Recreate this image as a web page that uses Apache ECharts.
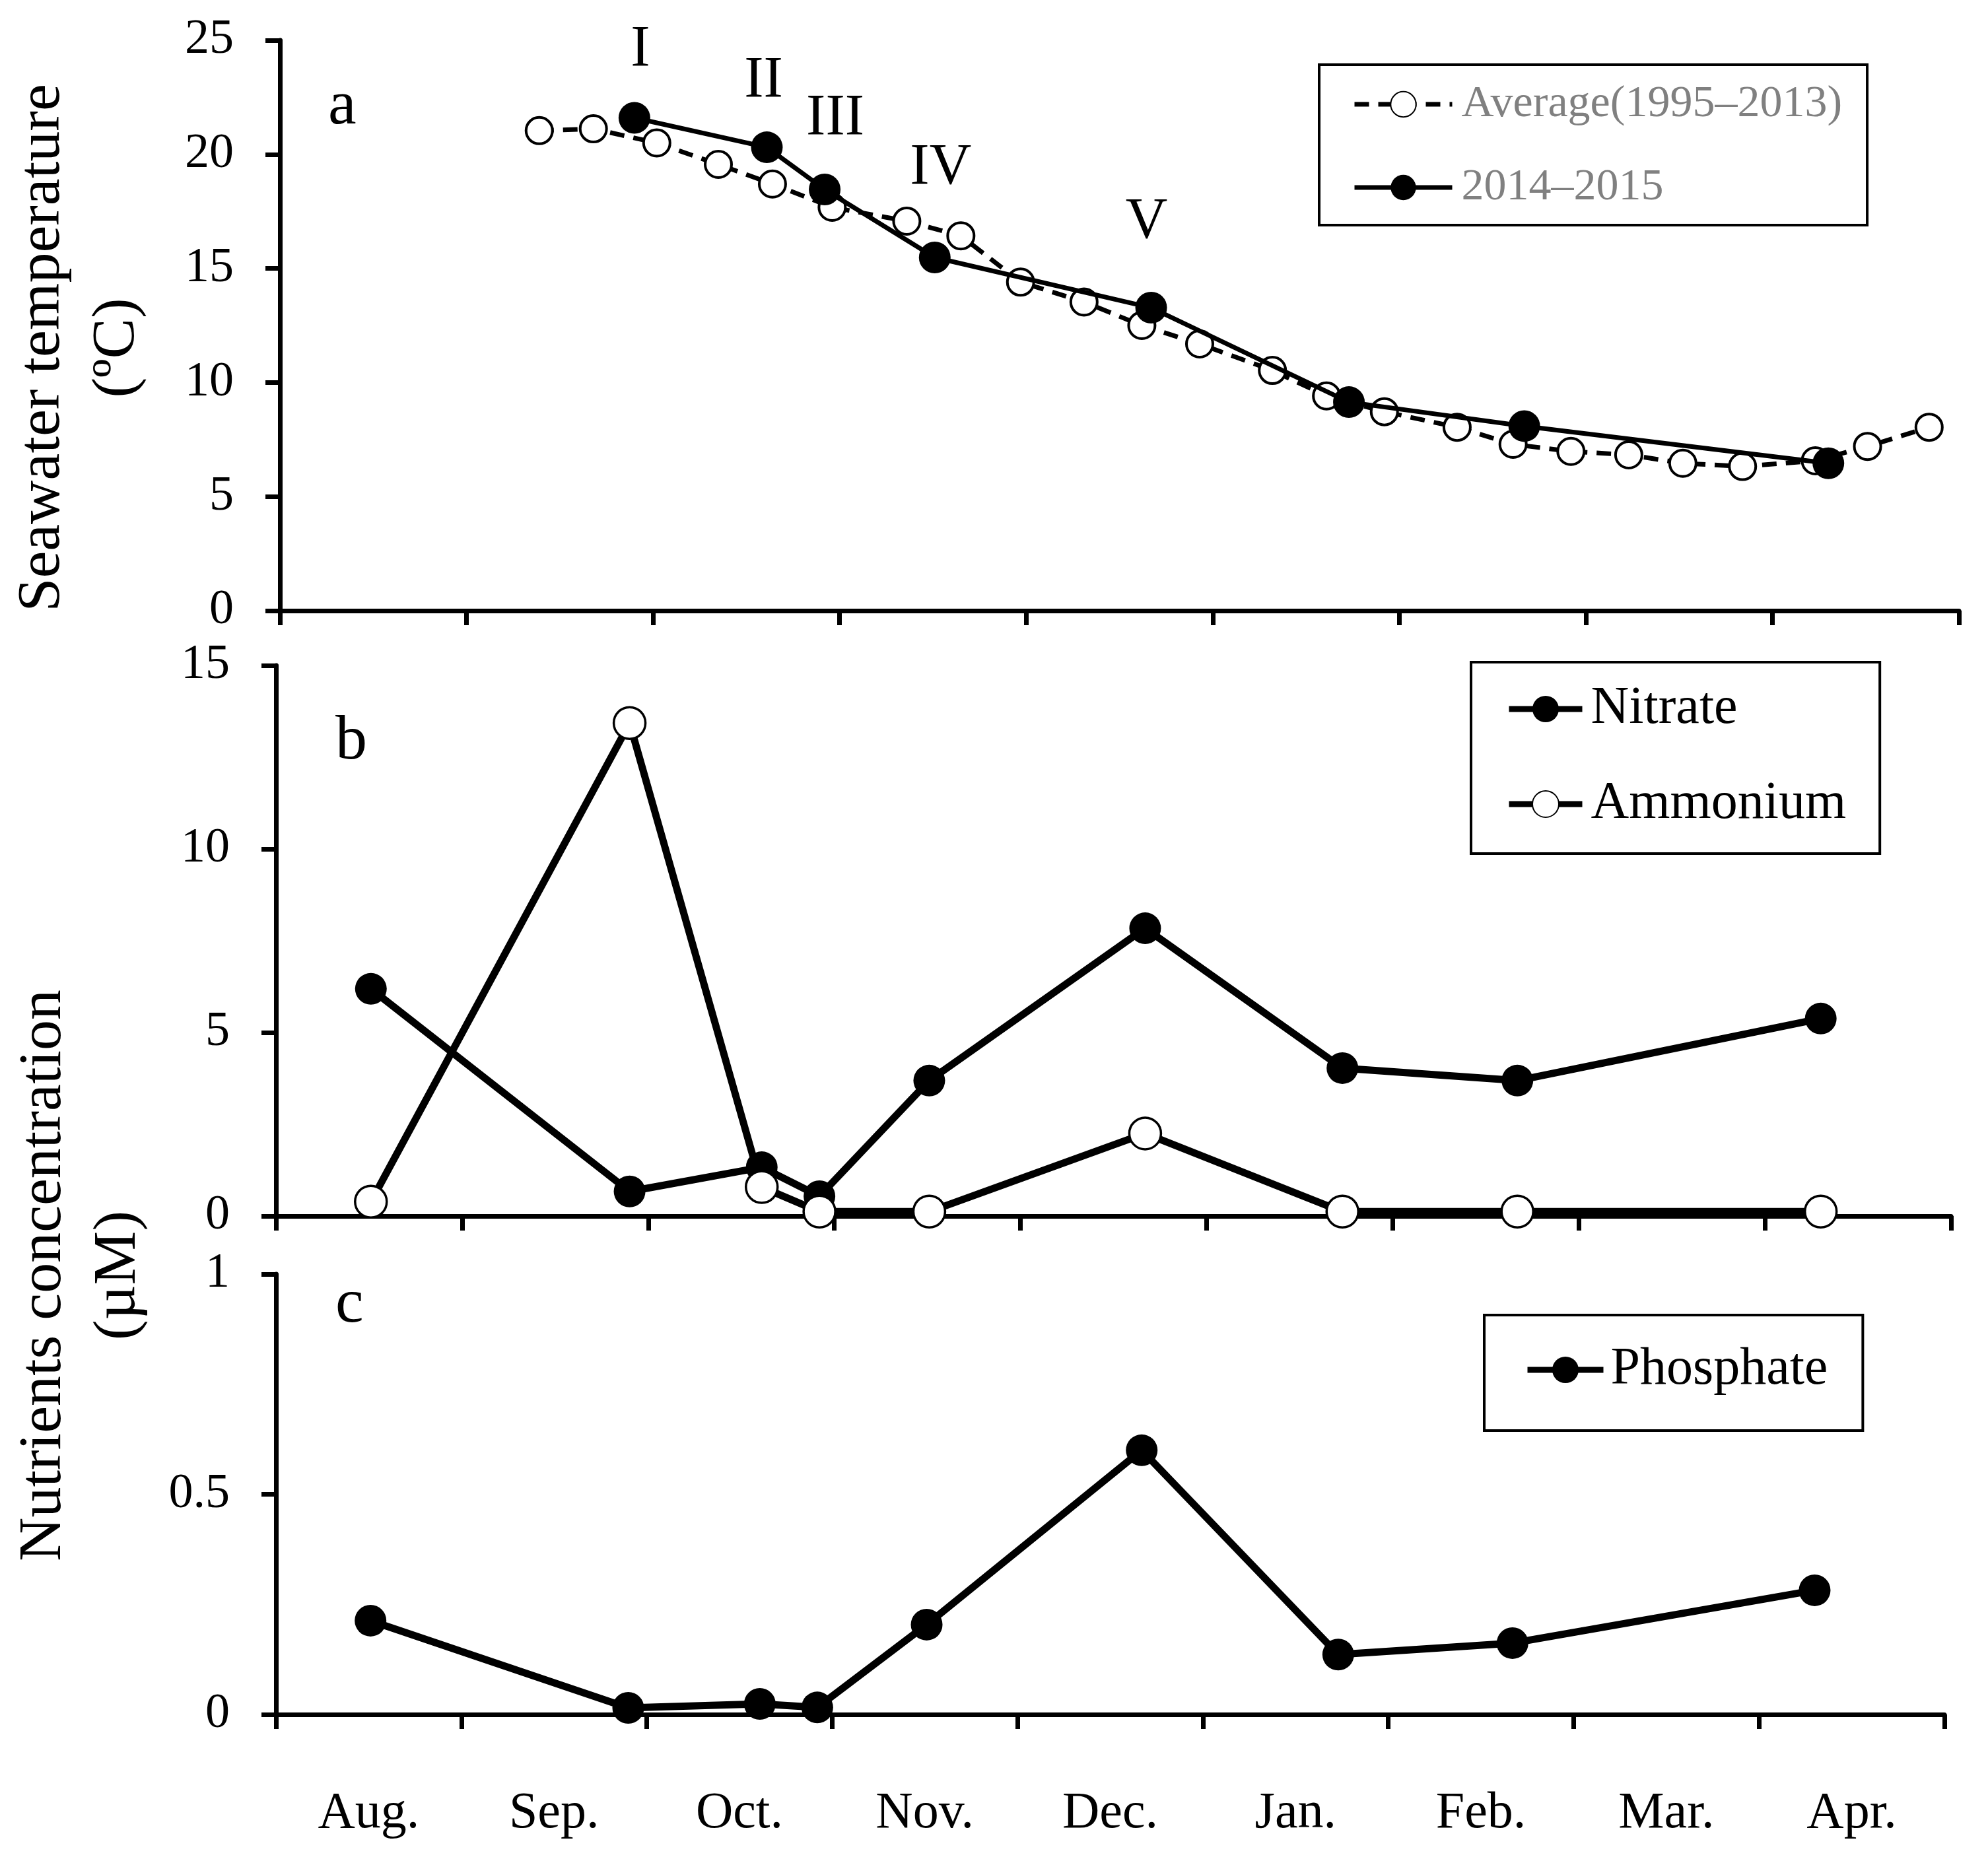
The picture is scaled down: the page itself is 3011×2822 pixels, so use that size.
<!DOCTYPE html>
<html><head><meta charset="utf-8">
<script src="https://cdn.jsdelivr.net/npm/echarts@6/dist/echarts.min.js"></script>
<style>html,body{margin:0;padding:0;background:#fff}#c{width:3011px;height:2822px}</style>
</head><body><div id="c"></div>
<script>
// x positions are in month units: 0 = start of Aug., 9 = end of Apr.
const months = ['Aug.','Sep.','Oct.','Nov.','Dec.','Jan.','Feb.','Mar.','Apr.'];
const avgX = [1.39, 1.68, 2.02, 2.35, 2.64, 2.96, 3.36, 3.65, 3.97, 4.31, 4.62, 4.93, 5.32, 5.61, 5.92, 6.31, 6.61, 6.92, 7.23, 7.52, 7.84, 8.23, 8.51, 8.84];
const avgTemp = [21.04, 21.12, 20.5, 19.56, 18.7, 17.68, 17.07, 16.43, 14.4, 13.53, 12.5, 11.69, 10.53, 9.41, 8.72, 8.04, 7.29, 6.98, 6.83, 6.46, 6.32, 6.57, 7.2, 8.04];
const tempX = [1.90, 2.61, 2.92, 3.51, 4.67, 5.73, 6.67, 8.30];
const temp2014 = [21.6, 20.31, 18.46, 15.48, 13.28, 9.14, 8.09, 6.46];
const cruiseLabels = ['I', 'II', 'III', 'IV', 'V'];
const sampleX = [0.51, 1.90, 2.61, 2.92, 3.51, 4.67, 5.73, 6.67, 8.30];
const nitrate = [6.19, 0.67, 1.33, 0.54, 3.69, 7.84, 4.03, 3.69, 5.38];
const ammonium = [0.39, 13.43, 0.79, 0.12, 0.12, 2.25, 0.12, 0.12, 0.12];
const phosphate = [0.213, 0.015, 0.024, 0.016, 0.204, 0.60, 0.136, 0.162, 0.282];

// label nudges for the cruise numerals (style only)
const cruiseLabelOffsets = [[9, -35], [-5, -32], [16, -39], [9, -67], [-7, -61]];

const FONT = "'Liberation Serif', 'Times New Roman', serif";
const zip = (xs, ys) => xs.map((x, i) => [x, ys[i]]);

const chart = echarts.init(document.getElementById('c'), null, {renderer: 'canvas'});

function xVal(gi) {
  return {
    type: 'value', gridIndex: gi, min: 0, max: 9, interval: 1,
    axisLine: {show: true, onZero: false, lineStyle: {color: '#000', width: 7}},
    axisTick: {show: true, inside: false, length: 22, lineStyle: {color: '#000', width: 7}},
    axisLabel: {show: false}, splitLine: {show: false}
  };
}
function yVal(gi, max, interval) {
  return {
    type: 'value', gridIndex: gi, min: 0, max: max, interval: interval,
    axisLine: {show: true, onZero: false, lineStyle: {color: '#000', width: 7}},
    axisTick: {show: true, inside: false, length: 22, lineStyle: {color: '#000', width: 7}},
    axisLabel: {show: true, fontSize: 74, fontFamily: FONT, color: '#000', margin: 70},
    splitLine: {show: false}
  };
}

const tempData = zip(tempX, temp2014).map((p, i) => {
  if (i < cruiseLabels.length) {
    return {value: p, label: {show: true, formatter: cruiseLabels[i], offset: cruiseLabelOffsets[i]}};
  }
  return {value: p};
});

const legendBase = {
  orient: 'vertical', selectedMode: false, borderColor: '#000', borderWidth: 4,
  backgroundColor: '#fff'
};

const option = {
  animation: false,
  backgroundColor: '#fff',
  textStyle: {fontFamily: FONT},
  grid: [
    {left: 424, top: 61, width: 2543, height: 864},
    {left: 418, top: 1008, width: 2537, height: 834},
    {left: 418, top: 1930, width: 2527, height: 667}
  ],
  xAxis: [
    xVal(0), xVal(1), xVal(2),
    {
      type: 'category', gridIndex: 2, data: months, boundaryGap: true, position: 'bottom',
      axisLine: {show: false}, axisTick: {show: false}, splitLine: {show: false},
      axisLabel: {show: true, interval: 0, fontSize: 78, fontFamily: FONT, color: '#000', margin: 112}
    }
  ],
  yAxis: [yVal(0, 25, 5), yVal(1, 15, 5), yVal(2, 1, 0.5)],
  legend: [
    Object.assign({}, legendBase, {
      data: ['Average(1995–2013)', '2014–2015'],
      left: 1998, top: 98, padding: [26, 38, 23, 50],
      itemWidth: 148, itemHeight: 48, itemGap: 58,
      lineStyle: {width: 7},
      textStyle: {fontSize: 68, lineHeight: 68, fontFamily: FONT, color: '#808080', padding: [0, 0, 0, 9]}
    }),
    Object.assign({}, legendBase, {
      data: ['Nitrate', 'Ammonium'],
      left: 2228, top: 1003, padding: [31, 51, 35, 53],
      itemWidth: 111, itemHeight: 50, itemGap: 64,
      lineStyle: {width: 9},
      textStyle: {fontSize: 80, lineHeight: 80, fontFamily: FONT, color: '#000', padding: [0, 0, 0, 8]}
    }),
    Object.assign({}, legendBase, {
      data: ['Phosphate'],
      left: 2248, top: 1992, padding: [43, 53, 52, 61],
      itemWidth: 115, itemHeight: 50, itemGap: 20,
      lineStyle: {width: 9},
      textStyle: {fontSize: 80, lineHeight: 80, fontFamily: FONT, color: '#000', padding: [0, 0, 0, 6]}
    })
  ],
  graphic: [
    {type: 'text', x: 121, y: 527, rotation: Math.PI / 2,
     style: {text: 'Seawater temperature\n(ºC)', fontSize: 92, fontFamily: FONT, fill: '#000',
             align: 'center', verticalAlign: 'middle', lineHeight: 113}},
    {type: 'text', x: 123, y: 1932, rotation: Math.PI / 2,
     style: {text: 'Nutrients concentration\n(µM)', fontSize: 92, fontFamily: FONT, fill: '#000',
             align: 'center', verticalAlign: 'middle', lineHeight: 113}},
    {type: 'text', x: 497, y: 162, style: {text: 'a', fontSize: 96, fontFamily: FONT, fill: '#000', align: 'left', verticalAlign: 'middle'}},
    {type: 'text', x: 508, y: 1124, style: {text: 'b', fontSize: 96, fontFamily: FONT, fill: '#000', align: 'left', verticalAlign: 'middle'}},
    {type: 'text', x: 508, y: 1977, style: {text: 'c', fontSize: 96, fontFamily: FONT, fill: '#000', align: 'left', verticalAlign: 'middle'}}
  ],
  series: [
    {
      name: 'Average(1995–2013)', type: 'line', xAxisIndex: 0, yAxisIndex: 0,
      data: zip(avgX, avgTemp), symbol: 'circle', symbolSize: 40,
      lineStyle: {color: '#000', width: 7, type: [22, 14]},
      itemStyle: {color: '#fff', borderColor: '#000', borderWidth: 4}, z: 2
    },
    {
      name: '2014–2015', type: 'line', xAxisIndex: 0, yAxisIndex: 0,
      data: tempData, symbol: 'circle', symbolSize: 48,
      lineStyle: {color: '#000', width: 7},
      itemStyle: {color: '#000', borderColor: '#000', borderWidth: 0},
      label: {show: false, position: 'top', distance: 0, fontSize: 88, fontFamily: FONT, color: '#000'},
      z: 3
    },
    {
      name: 'Nitrate', type: 'line', xAxisIndex: 1, yAxisIndex: 1,
      data: zip(sampleX, nitrate), symbol: 'circle', symbolSize: 48,
      lineStyle: {color: '#000', width: 11},
      itemStyle: {color: '#000', borderColor: '#000', borderWidth: 0}, z: 2
    },
    {
      name: 'Ammonium', type: 'line', xAxisIndex: 1, yAxisIndex: 1,
      data: zip(sampleX, ammonium), symbol: 'circle', symbolSize: 48,
      lineStyle: {color: '#000', width: 11},
      itemStyle: {color: '#fff', borderColor: '#000', borderWidth: 3.5}, z: 3
    },
    {
      name: 'Phosphate', type: 'line', xAxisIndex: 2, yAxisIndex: 2,
      data: zip(sampleX, phosphate), symbol: 'circle', symbolSize: 48,
      lineStyle: {color: '#000', width: 11},
      itemStyle: {color: '#000', borderColor: '#000', borderWidth: 0}, z: 2
    }
  ]
};
chart.setOption(option);
</script>
</body></html>
